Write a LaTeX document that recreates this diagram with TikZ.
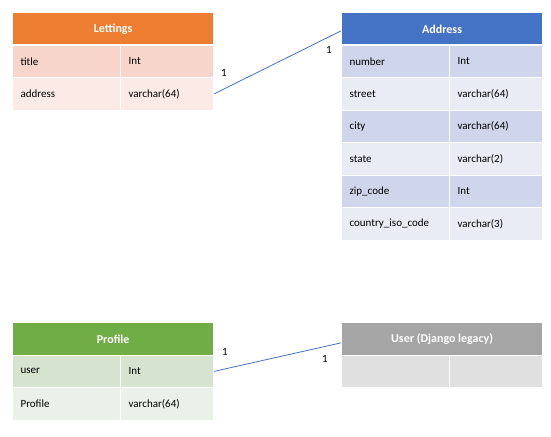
\documentclass[tikz,border=0pt]{standalone}
\usepackage{fontspec}
\setmainfont{Carlito}
\usepackage{tikz}

\definecolor{lethead}{HTML}{ED7D31}
\definecolor{letdark}{HTML}{F8D5CA}
\definecolor{letlight}{HTML}{FBEAE5}
\definecolor{adrhead}{HTML}{4472C4}
\definecolor{adrdark}{HTML}{CFD5EA}
\definecolor{adrlight}{HTML}{E9EBF5}
\definecolor{prohead}{HTML}{70AD47}
\definecolor{prodark}{HTML}{D5E3CF}
\definecolor{prolight}{HTML}{EAF1E8}
\definecolor{usrhead}{HTML}{A5A5A5}
\definecolor{usrdark}{HTML}{E0E0E0}
\definecolor{linkblue}{HTML}{4472C4}

\newcommand{\tabfont}{\fontsize{11}{13}\selectfont}

\tikzset{
	hdr/.style={anchor=north west, fill=#1, draw=white, line width=1.2pt, text=white, font=\fontsize{12}{14}\selectfont\bfseries, minimum width=201pt, minimum height=32.5pt, inner sep=0pt},
	cellL/.style={anchor=north west, fill=#1, draw=white, line width=1.2pt, font=\tabfont, minimum height=32.5pt, text width=92pt, inner xsep=8pt, inner ysep=0pt, align=left},
	cellR/.style={cellL=#1, text width=77pt},
	one/.style={font=\tabfont, inner sep=0pt},
	link/.style={draw=linkblue, line width=0.8pt},
}

\begin{document}
\begin{tikzpicture}[x=1pt, y=-1pt]
	\useasboundingbox (0,0) rectangle (551,436);

	% Lettings
	\node[hdr=lethead] (leth) at (12,12) {Lettings};
	\node[cellL=letdark] (lt1) at (12,44.5) {title};
	\node[cellR=letdark] (lt1t) at (120,44.5) {Int};
	\node[cellL=letlight] (lt2) at (12,77) {address};
	\node[cellR=letlight] (lt2t) at (120,77) {varchar(64)};

	% Address
	\node[hdr=adrhead] (adrh) at (341,12) {Address};
	\node[cellL=adrdark] (ad1) at (341,44.5) {number};
	\node[cellR=adrdark] (ad1t) at (449,44.5) {Int};
	\node[cellL=adrlight] (ad2) at (341,77) {street};
	\node[cellR=adrlight] (ad2t) at (449,77) {varchar(64)};
	\node[cellL=adrdark] (ad3) at (341,109.5) {city};
	\node[cellR=adrdark] (ad3t) at (449,109.5) {varchar(64)};
	\node[cellL=adrlight] (ad4) at (341,142) {state};
	\node[cellR=adrlight] (ad4t) at (449,142) {varchar(2)};
	\node[cellL=adrdark] (ad5) at (341,174.5) {zip\_code};
	\node[cellR=adrdark] (ad5t) at (449,174.5) {Int};
	\node[cellL=adrlight] (ad6) at (341,207) {country\_iso\_code};
	\node[cellR=adrlight] (ad6t) at (449,207) {varchar(3)};

	% Profile
	\node[hdr=prohead] (proh) at (12,322) {Profile};
	\node[cellL=prodark] (pr1) at (12,354.5) {user};
	\node[cellR=prodark] (pr1t) at (120,354.5) {Int};
	\node[cellL=prolight] (pr2) at (12,387) {Profile};
	\node[cellR=prolight] (pr2t) at (120,387) {varchar(64)};

	% User
	\node[hdr=usrhead] (usrh) at (341,322) {User (Django legacy)};
	\node[cellL=usrdark] (us1) at (341,354.5) {};
	\node[cellR=usrdark] (us1t) at (449,354.5) {};

	% relations
	\node[one] (o1) at (224,73) {1};
	\node[one] (o2) at (329,50) {1};
	\node[one] (o3) at (225,352) {1};
	\node[one] (o4) at (325,359) {1};

	\path [-, link] (lt2t.east) edge ([yshift=-2pt]adrh.west);
	\path [-, link] (pr1t.east) edge ([yshift=-4pt]usrh.west);
\end{tikzpicture}
\end{document}
